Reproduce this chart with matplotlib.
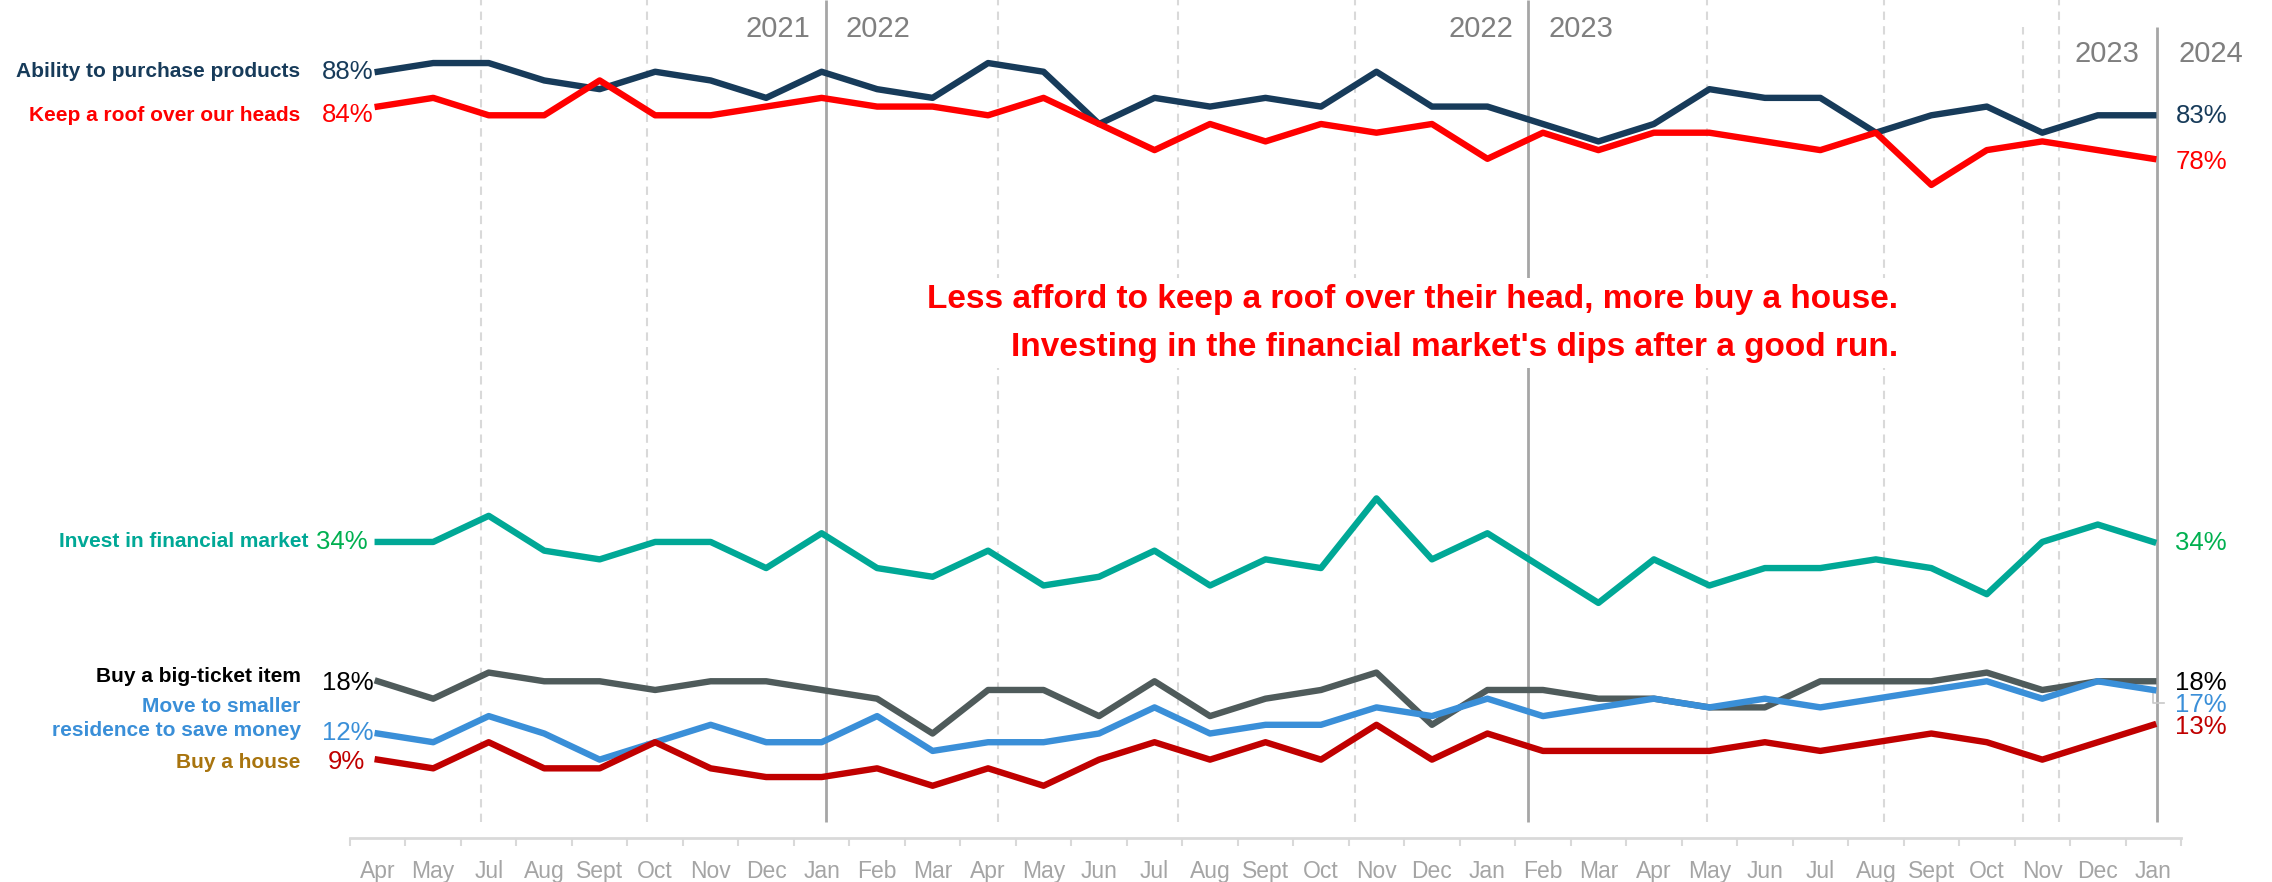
import matplotlib.pyplot as plt

plt.rcParams['font.family'] = ['Liberation Sans', 'DejaVu Sans']

months = ['Apr', 'May', 'Jul', 'Aug', 'Sept', 'Oct', 'Nov', 'Dec',
          'Jan', 'Feb', 'Mar', 'Apr', 'May', 'Jun', 'Jul', 'Aug', 'Sept', 'Oct', 'Nov', 'Dec',
          'Jan', 'Feb', 'Mar', 'Apr', 'May', 'Jun', 'Jul', 'Aug', 'Sept', 'Oct', 'Nov', 'Dec',
          'Jan']

ability = [88, 89, 89, 87, 86, 88, 87, 85,
           88, 86, 85, 89, 88, 82, 85, 84, 85, 84, 88, 84,
           84, 82, 80, 82, 86, 85, 85, 81, 83, 84, 81, 83,
           83]
roof = [84, 85, 83, 83, 87, 83, 83, 84,
        85, 84, 84, 83, 85, 82, 79, 82, 80, 82, 81, 82,
        78, 81, 79, 81, 81, 80, 79, 81, 75, 79, 80, 79,
        78]
invest = [34, 34, 37, 33, 32, 34, 34, 31,
          35, 31, 30, 33, 29, 30, 33, 29, 32, 31, 39, 32,
          35, 31, 27, 32, 29, 31, 31, 32, 31, 28, 34, 36,
          34]
bigticket = [18, 16, 19, 18, 18, 17, 18, 18,
             17, 16, 12, 17, 17, 14, 18, 14, 16, 17, 19, 13,
             17, 17, 16, 16, 15, 15, 18, 18, 18, 19, 17, 18,
             18]
move = [12, 11, 14, 12, 9, 11, 13, 11,
        11, 14, 10, 11, 11, 12, 15, 12, 13, 13, 15, 14,
        16, 14, 15, 16, 15, 16, 15, 16, 17, 18, 16, 18,
        17]
house = [9, 8, 11, 8, 8, 11, 8, 7,
         7, 8, 6, 8, 6, 9, 11, 9, 11, 9, 13, 9,
         12, 10, 10, 10, 10, 11, 10, 11, 12, 11, 9, 11,
         13]

# year separators and quarter guides (positions on the month axis)
year_lines = [8.07, 20.74, 32.07]
quarter_lines = [1.87, 4.86, 11.18, 14.43, 17.61, 23.95, 27.15, 29.66, 30.3]

fig = plt.figure(figsize=(22.72, 8.82), dpi=100)
ax = fig.add_axes([350 / 2272, 44 / 882, 1831 / 2272, 838 / 882])
x = list(range(len(months)))
ax.set_xlim(-0.5, 32.5)
ax.set_ylim(0, 96.24)

for q in quarter_lines:
    top = 93.1 if q == 29.66 else 96.24
    ax.vlines(q, 1.84, top, color='#d9d9d9', lw=1.5, linestyles=(0, (4, 3)), zorder=1)
for yl in year_lines:
    top = 93.1 if yl == 32.07 else 96.24
    ax.vlines(yl, 1.84, top, color='#a6a6a6', lw=2, zorder=1)

lw = 4.6
ax.plot(x, ability, color='#173b5a', lw=lw, zorder=3)
ax.plot(x, roof, color='#ff0000', lw=lw, zorder=3)
ax.plot(x, invest, color='#00a896', lw=lw, zorder=3)
ax.plot(x, bigticket, color='#4f5b5b', lw=lw, zorder=3)
ax.plot(x, move, color='#3a8fd8', lw=lw, zorder=3)
ax.plot(x, house, color='#c00000', lw=lw, zorder=3)

# left labels
lab = dict(ha='right', va='center', fontsize=15, fontweight='bold')
pct = dict(va='center', fontsize=18.5)
ax.text(-1.39, ability[0], 'Ability to purchase products', color='#173b5a', **lab)
ax.text(-0.07, ability[0], f'{ability[0]}%', color='#173b5a', ha='right', **pct)
ax.text(-1.39, roof[0] - 1, 'Keep a roof over our heads', color='#ff0000', **lab)
ax.text(-0.07, roof[0] - 1, f'{roof[0]}%', color='#ff0000', ha='right', **pct)
ax.text(-1.24, invest[0], 'Invest in financial market', color='#00a896', **lab)
ax.text(-0.18, invest[0], f'{invest[0]}%', color='#00b050', ha='right', **pct)
ax.text(-1.39, bigticket[0] + 0.6, 'Buy a big-ticket item', color='black', **lab)
ax.text(-0.07, bigticket[0] - 0.2, f'{bigticket[0]}%', color='black', ha='right', **pct)
ax.text(-1.39, move[0] + 1.7, 'Move to smaller\nresidence to save money', color='#3a8fd8',
        linespacing=1.3, multialignment='right', **lab)
ax.text(-0.07, move[0] + 0.1, f'{move[0]}%', color='#3a8fd8', ha='right', **pct)
ax.text(-1.39, house[0] - 0.3, 'Buy a house', color='#a8740e', **lab)
ax.text(-0.23, house[0] - 0.3, f'{house[0]}%', color='#c00000', ha='right', **pct)

# right labels
xr = 32.4
ax.text(xr, ability[-1] - 0.1, f'{ability[-1]}%', color='#173b5a', ha='left', **pct)
ax.text(xr, roof[-1] - 0.4, f'{roof[-1]}%', color='#ff0000', ha='left', **pct)
ax.text(xr, invest[-1] - 0.1, f'{invest[-1]}%', color='#00b050', ha='left', **pct)
ax.text(xr, bigticket[-1] - 0.2, f'{bigticket[-1]}%', color='black', ha='left', **pct)
ax.text(xr, move[-1] - 1.7, f'{move[-1]}%', color='#3a8fd8', ha='left', **pct)
ax.text(xr, house[-1] - 0.3, f'{house[-1]}%', color='#c00000', ha='left', **pct)
ax.plot([x[-1], x[-1], x[-1] + 0.2], [move[-1] - 0.3, move[-1] - 1.5, move[-1] - 1.5],
        color='#c8c8c8', lw=1.2, zorder=2)

# year labels
yr = dict(fontsize=21, color='#7f7f7f', va='center')
ax.text(7.8, 92.9, '2021', ha='right', **yr)
ax.text(8.43, 92.9, '2022', ha='left', **yr)
ax.text(20.47, 92.9, '2022', ha='right', **yr)
ax.text(21.1, 92.9, '2023', ha='left', **yr)
ax.text(31.75, 90.0, '2023', ha='right', **yr)
ax.text(32.45, 90.0, '2024', ha='left', **yr)

ax.text(27.4, 59.1, "Less afford to keep a roof over their head, more buy a house.\n"
        "Investing in the financial market's dips after a good run.",
        ha='right', va='center', multialignment='right', fontsize=24, fontweight='bold',
        color='#ff0000', linespacing=1.7, zorder=4,
        bbox=dict(facecolor='white', edgecolor='none', pad=4))

# axis
for s in ['top', 'left', 'right']:
    ax.spines[s].set_visible(False)
ax.spines['bottom'].set_color('#d9d9d9')
ax.spines['bottom'].set_linewidth(2)
ax.set_yticks([])
ax.set_xticks(x)
ax.set_xticklabels(months)
ax.set_xticks([i + 0.5 for i in range(-1, len(months))], minor=True)
ax.tick_params(axis='x', which='major', length=0, pad=16, labelsize=16.5, labelcolor='#a5a5a5')
ax.tick_params(axis='x', which='minor', length=6, width=1.5, color='#d9d9d9')

fig.savefig('out.png', dpi=100)
